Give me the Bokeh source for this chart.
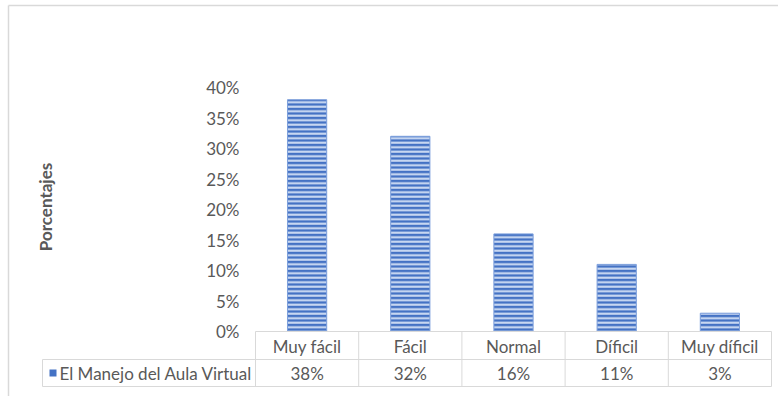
import math
from bokeh.plotting import figure
from bokeh.models import Range1d, ColumnDataSource
from bokeh.core.properties import value
from bokeh.embed import file_html
from bokeh.resources import INLINE

# ---- data ----
categories = ["Muy fácil", "Fácil", "Normal", "Díficil", "Muy díficil"]
values = [0.38, 0.32, 0.16, 0.11, 0.03]
value_labels = ["38%", "32%", "16%", "11%", "3%"]
series_name = "El Manejo del Aula Virtual"
y_ticks = [0.0, 0.05, 0.10, 0.15, 0.20, 0.25, 0.30, 0.35, 0.40]
y_tick_labels = ["0%", "5%", "10%", "15%", "20%", "25%", "30%", "35%", "40%"]
y_label = "Porcentajes"

# ---- layout constants (pixels) ----
W, H = 778, 396
plot_left_px = 255          # left edge of first category cell
cat_w = 103.2               # width of one category cell
zero_px, top_px, ymax = 331, 87, 0.40
FONT = "Lato"
TXT = "#595959"
GRID = "#d9d9d9"
FS = "17px"

def xd(px):
    return (px - plot_left_px) / cat_w

def yd(px):
    return (zero_px - px) * ymax / (zero_px - top_px)

p = figure(width=W, height=H, output_backend="svg", toolbar_location=None,
           x_range=Range1d(xd(0), xd(W)), y_range=Range1d(yd(H), yd(0)),
           x_axis_location=None, y_axis_location=None,
           min_border_left=0, min_border_right=0, min_border_top=0, min_border_bottom=0)
p.xgrid.visible = False
p.ygrid.visible = False
p.outline_line_color = None
p.background_fill_color = "white"
p.border_fill_color = "white"

n = len(categories)
xc = [i + 0.5 for i in range(n)]
src = ColumnDataSource(dict(x=xc, top=values, cat=categories, lab=value_labels))

# outer chart border (only top and left visible)
p.segment(x0=[xd(8), xd(8)], x1=[xd(8), xd(W + 5)], y0=[yd(5), yd(5)], y1=[yd(H + 5), yd(5)],
          line_color=GRID, line_width=1.5)

# y tick labels from tick arrays through the y scale
tsrc = ColumnDataSource(dict(y=y_ticks, t=y_tick_labels))
p.text(x=xd(239), y="y", text="t", source=tsrc, text_align="right", text_baseline="middle",
       text_font=value(FONT), text_font_size=FS, text_color=TXT)
p.text(x=[xd(45)], y=[yd(206.5)], text=[y_label], angle=math.pi / 2, text_align="center",
       text_baseline="middle", text_font=value(FONT), text_font_size="17px",
       text_font_style="bold", text_color=TXT)

# bars
p.vbar(x="x", top="top", width=0.38, bottom=0, source=src,
       fill_color="#4472C4", line_color="#7ea0dc", line_width=1,
       hatch_pattern="-", hatch_color="#d3e0f5", hatch_scale=4.5, hatch_weight=2)

# data table
ys_row = yd(359)
ys_bot = yd(386)
x_leg = xd(42)
p.segment(x0=[0, x_leg, x_leg], x1=[n, n, n], y0=[0, ys_row, ys_bot], y1=[0, ys_row, ys_bot],
          line_color=GRID, line_width=1)
p.segment(x0=list(range(n + 1)), x1=list(range(n + 1)), y0=[0] * (n + 1), y1=[ys_bot] * (n + 1),
          line_color=GRID, line_width=1)
p.segment(x0=[x_leg], x1=[x_leg], y0=[ys_row], y1=[ys_bot], line_color=GRID, line_width=1)

p.text(x="x", y=yd(345.5), text="cat", source=src, text_align="center", text_baseline="middle",
       text_font=value(FONT), text_font_size=FS, text_color=TXT)
p.text(x="x", y=yd(372.5), text="lab", source=src, text_align="center", text_baseline="middle",
       text_font=value(FONT), text_font_size=FS, text_color=TXT)

# legend key + series name
p.rect(x=[xd(52.5)], y=[yd(372.5)], width=7 / cat_w, height=yd(369) - yd(376),
       fill_color="#4472C4", line_color=None)
p.text(x=[xd(59)], y=[yd(372.5)], text=[series_name], text_align="left", text_baseline="middle",
       text_font=value(FONT), text_font_size=FS, text_color=TXT)

open("out.html", "w").write(file_html(p, INLINE))
